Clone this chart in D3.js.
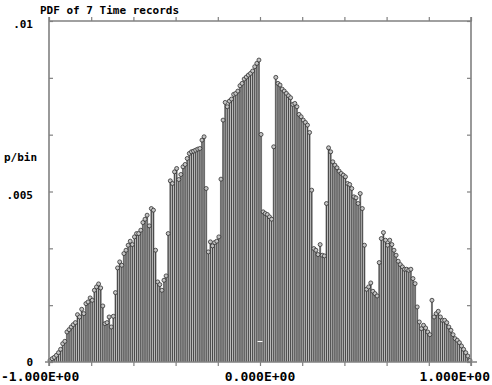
<!DOCTYPE html>
<html>
<head>
<meta charset="utf-8">
<script src="https://cdn.jsdelivr.net/npm/d3@7"></script>
<style>
html,body{margin:0;padding:0;background:#fff;}
svg{display:block;}
text{font-family:"DejaVu Sans Mono",monospace;font-weight:bold;fill:#000;}
</style>
</head>
<body>
<svg id="chart" width="492" height="385"></svg>
<script>
// ---- data ----
const title = "PDF of 7 Time records";
const yLabel = "p/bin";
const xRange = [-1, 1];
const yRange = [0, 0.01];
const xTickValues = [-1, -0.8, -0.6, -0.4, -0.2, 0, 0.2, 0.4, 0.6, 0.8, 1];
const xTickLabels = ["-1.000E+00", "", "", "", "", "0.000E+00", "", "", "", "", "1.000E+00"];
const yTickValues = [0, 0.01/6, 0.02/6, 0.005, 0.04/6, 0.05/6, 0.01];
const yTickLabels = ["0", "", "", ".005", "", "", ".01"];
// probability per bin (200 bins from -1 to 1), in units of 1e-3
const pValues = [
0.049,0.098,0.137,0.196,0.274,0.372,0.538,0.607,0.881,0.949,
1.027,1.096,1.155,1.389,1.321,1.546,1.419,1.712,1.761,1.879,
1.810,2.104,2.202,2.290,2.172,1.644,1.125,1.155,1.321,1.027,
1.341,2.035,2.759,2.936,2.838,3.180,3.278,3.425,3.542,3.444,
3.669,3.767,3.767,3.865,4.090,4.188,4.305,3.992,4.501,4.452,
3.278,2.348,2.270,2.104,2.397,2.525,3.767,5.313,5.235,5.577,
5.675,5.352,5.499,5.724,5.793,5.969,6.116,6.165,6.184,6.213,
6.243,6.262,6.507,6.605,5.088,3.229,3.523,3.405,3.503,3.542,
3.669,5.362,7.094,7.613,7.486,7.652,7.711,7.848,7.877,7.945,
8.102,8.170,8.298,8.356,8.415,8.464,8.533,8.660,8.758,8.855,
6.673,4.403,4.354,4.325,4.256,4.188,6.311,8.347,8.170,8.122,
8.004,7.945,7.877,7.808,7.750,7.554,7.583,7.486,7.260,7.192,
7.094,7.026,6.947,6.732,5.039,3.327,3.278,3.151,3.444,3.131,
3.112,4.648,6.282,6.165,5.871,5.773,5.695,5.597,5.529,5.480,
5.431,5.235,5.206,5.088,4.844,4.814,4.648,4.941,4.501,3.425,
2.133,2.202,2.319,2.074,2.006,1.937,2.916,3.620,3.797,3.572,
3.425,3.572,3.444,3.278,3.131,2.955,2.857,2.789,2.720,2.720,
2.691,2.720,2.446,2.299,1.615,1.174,0.979,1.076,0.998,0.881,
0.802,1.810,1.321,1.419,1.487,1.321,1.223,1.223,1.155,1.027,
0.930,0.802,0.685,0.636,0.568,0.470,0.372,0.274,0.176,0.049
];
const meanMark = [{x: 0, p: 0.0006}];

// ---- drawing ----
const svg = d3.select("#chart");
const plot = {left: 49, right: 471, top: 21, bottom: 362};
const x = d3.scaleLinear().domain(xRange).range([plot.left, plot.right]);
const y = d3.scaleLinear().domain(yRange).range([plot.bottom, plot.top]);
const nBins = pValues.length;
const binW = (xRange[1] - xRange[0]) / nBins;
const bins = pValues.map((v, i) => ({
  lo: xRange[0] + i * binW,
  hi: xRange[0] + (i + 1) * binW,
  c: xRange[0] + (i + 0.5) * binW,
  p: v / 1000
}));

// bars
svg.append("g").selectAll("rect").data(bins).join("rect")
  .attr("x", d => x(d.lo))
  .attr("width", d => x(d.hi) - x(d.lo))
  .attr("y", d => y(d.p))
  .attr("height", d => y(0) - y(d.p))
  .attr("fill", "#a4a4a4");
// stems
svg.append("g").selectAll("line").data(bins).join("line")
  .attr("x1", d => x(d.c)).attr("x2", d => x(d.c))
  .attr("y1", y(0)).attr("y2", d => y(d.p))
  .attr("stroke", "#3c3c3c").attr("stroke-width", 0.9);
// markers
svg.append("g").selectAll("circle").data(bins).join("circle")
  .attr("cx", d => x(d.c)).attr("cy", d => y(d.p))
  .attr("r", 2)
  .attr("fill", "#c4c4c4").attr("stroke", "#303030").attr("stroke-width", 0.8);
// mean mark
svg.append("g").selectAll("line").data(meanMark).join("line")
  .attr("x1", d => x(d.x) - 2.5).attr("x2", d => x(d.x) + 2.5)
  .attr("y1", d => y(d.p)).attr("y2", d => y(d.p))
  .attr("stroke", "#fff").attr("stroke-width", 1);

// axes
const axisColor = "#808080";
const bottomAxis = d3.axisBottom(x).tickValues(xTickValues).tickSize(4).tickFormat("");
const topAxis = d3.axisTop(x).tickValues(xTickValues).tickSize(4).tickFormat("");
const leftAxis = d3.axisRight(y).tickValues(yTickValues).tickSize(4).tickFormat("");
const rightAxis = d3.axisLeft(y).tickValues(yTickValues).tickSize(4).tickFormat("");
function styleAxis(g) {
  g.select(".domain").remove();
  g.selectAll(".tick line").attr("stroke", axisColor).attr("stroke-width", 1.2);
}
svg.append("g").attr("transform", `translate(0,${plot.bottom})`).call(bottomAxis).call(styleAxis);
svg.append("g").attr("transform", `translate(0,${plot.top})`).call(topAxis).call(styleAxis);
svg.append("g").attr("transform", `translate(${plot.left},0)`).call(leftAxis).call(styleAxis);
svg.append("g").attr("transform", `translate(${plot.right},0)`).call(rightAxis).call(styleAxis);
// frame lines
svg.append("line").attr("x1", plot.left - 4).attr("x2", plot.right + 6)
  .attr("y1", plot.bottom).attr("y2", plot.bottom)
  .attr("stroke", axisColor).attr("stroke-width", 1.6);
svg.append("line").attr("x1", plot.left).attr("x2", plot.right + 1)
  .attr("y1", plot.top).attr("y2", plot.top)
  .attr("stroke", axisColor).attr("stroke-width", 1.6);
svg.append("line").attr("x1", plot.left).attr("x2", plot.left)
  .attr("y1", plot.top - 4).attr("y2", plot.bottom + 4)
  .attr("stroke", axisColor).attr("stroke-width", 1.6);
svg.append("line").attr("x1", plot.right).attr("x2", plot.right)
  .attr("y1", plot.top - 4).attr("y2", plot.bottom + 4)
  .attr("stroke", axisColor).attr("stroke-width", 1.6);

// tick labels
svg.append("g").selectAll("text")
  .data(xTickValues.map((v, i) => ({v, t: xTickLabels[i], i})).filter(d => d.t))
  .join("text")
  .attr("x", d => d.i === 0 ? 1 : d.i === xTickValues.length - 1 ? 490 : x(d.v))
  .attr("y", 381)
  .attr("text-anchor", d => d.i === 0 ? "start" : d.i === xTickValues.length - 1 ? "end" : "middle")
  .attr("font-size", 13)
  .text(d => d.t);
svg.append("g").selectAll("text")
  .data(yTickValues.map((v, i) => ({v, t: yTickLabels[i]})).filter(d => d.t))
  .join("text")
  .attr("x", 33)
  .attr("y", d => y(d.v) + (d.v === 0 ? 4 : 7))
  .attr("text-anchor", "end")
  .attr("font-size", 11)
  .text(d => d.t);
svg.append("text").attr("x", 4).attr("y", 161).attr("font-size", 11).text(yLabel);
svg.append("text").attr("x", 40).attr("y", 14).attr("font-size", 11).text(title);
</script>
</body>
</html>
